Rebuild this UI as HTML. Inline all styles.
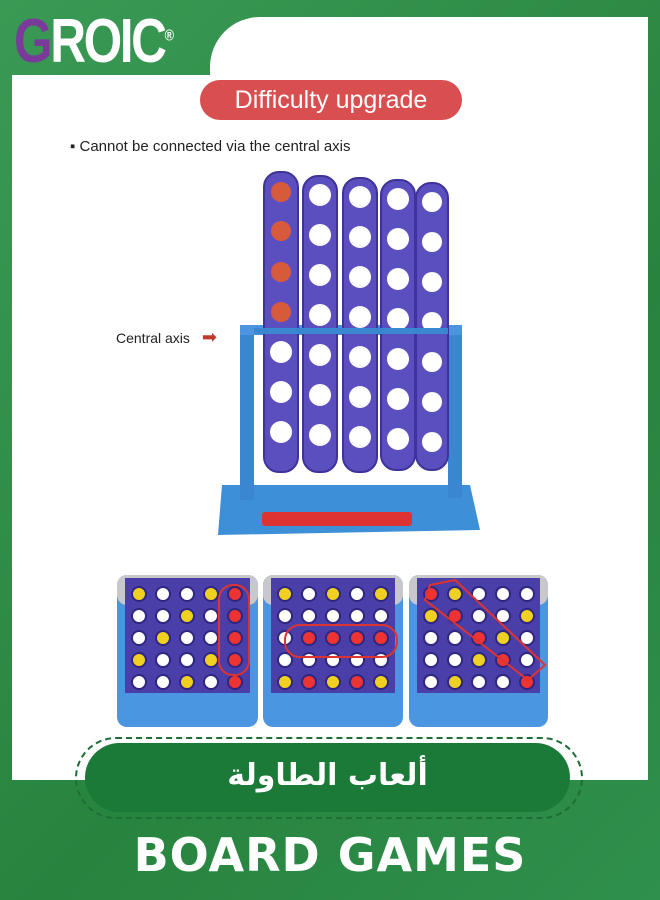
<!DOCTYPE html>
<html><head><meta charset="utf-8"><style>
body{margin:0;width:660px;height:900px;overflow:hidden;background:#2f8f4c;font-family:"Liberation Sans",sans-serif;position:relative}
.bg{position:absolute;inset:0;background:linear-gradient(135deg,#3a9a55,#27843f 60%,#2f8f4c)}
.p1{position:absolute;left:12px;top:75px;width:636px;height:705px;background:#fff}
.p2{position:absolute;left:210px;top:17px;width:438px;height:80px;background:#fff;border-top-left-radius:50px}
.logo{position:absolute;left:14px;top:6px;font-size:62px;font-weight:bold;color:#fff;letter-spacing:-3px;transform:scaleX(0.8);transform-origin:left}
.pill{position:absolute;left:200px;top:80px;width:262px;height:40px;border-radius:20px;background:#d94f50;color:#fff;font-size:25px;text-align:center;line-height:40px}
.txt{position:absolute;left:70px;top:138px;font-size:15px;color:#222}
.ax{position:absolute;left:116px;top:327px;font-size:14px;color:#222}
.dash{position:absolute;left:75px;top:737px;width:508px;height:82px;border:2px dashed #1e6e35;border-radius:42px;box-sizing:border-box}
.ar{position:absolute;left:85px;top:743px;width:485px;height:69px;border-radius:35px;background:#1b7a38;color:#fff;font-size:30px;font-weight:bold;text-align:center;line-height:66px;font-family:"DejaVu Sans",sans-serif}
.bg2{position:absolute;left:0;top:828px;width:660px;text-align:center;font-size:46px;font-weight:900;color:#fff;font-family:"DejaVu Sans",sans-serif;letter-spacing:1px}
</style></head><body>
<div class="bg"></div>
<div class="p1"></div><div class="p2"></div>
<div class="logo"><span style="color:#7a3a9a">G</span>ROIC<sup style="font-size:16px">®</sup></div>
<div class="pill">Difficulty upgrade</div>
<div class="txt">▪ Cannot be connected via the central axis</div>
<div class="ax">Central axis <span style="color:#c0392b;margin-left:8px;font-size:18px">➡</span></div>
<svg style="position:absolute;left:0;top:0" width="660" height="900">
<path d="M222 485 L470 485 L480 530 L218 535 Z" fill="#3d8fd8"/>
<rect x="240" y="330" width="14" height="170" fill="#3a86d0"/>
<rect x="448" y="328" width="14" height="170" fill="#3a86d0"/>
<rect x="240" y="325" width="222" height="10" fill="#4a95dd"/>
<rect x="262" y="512" width="150" height="14" rx="3" fill="#d33"/>
<g fill="#5b4fc0" stroke="#3d339a" stroke-width="2">
<rect x="264" y="172" width="34" height="300" rx="15"/>
<rect x="303" y="176" width="34" height="296" rx="15"/>
<rect x="343" y="178" width="34" height="294" rx="15"/>
<rect x="381" y="180" width="34" height="290" rx="15"/>
<rect x="416" y="183" width="32" height="287" rx="15"/>
</g>
<g fill="#fff">
<circle cx="281" cy="192" r="10" fill="#d85a3c"/><circle cx="281" cy="231" r="10" fill="#d85a3c"/><circle cx="281" cy="272" r="10" fill="#d85a3c"/><circle cx="281" cy="312" r="10" fill="#d85a3c"/>
<circle cx="281" cy="352" r="11"/><circle cx="281" cy="392" r="11"/><circle cx="281" cy="432" r="11"/>
<circle cx="320" cy="195" r="11"/><circle cx="320" cy="235" r="11"/><circle cx="320" cy="275" r="11"/><circle cx="320" cy="315" r="11"/><circle cx="320" cy="355" r="11"/><circle cx="320" cy="395" r="11"/><circle cx="320" cy="435" r="11"/>
<circle cx="360" cy="197" r="11"/><circle cx="360" cy="237" r="11"/><circle cx="360" cy="277" r="11"/><circle cx="360" cy="317" r="11"/><circle cx="360" cy="357" r="11"/><circle cx="360" cy="397" r="11"/><circle cx="360" cy="437" r="11"/>
<circle cx="398" cy="199" r="11"/><circle cx="398" cy="239" r="11"/><circle cx="398" cy="279" r="11"/><circle cx="398" cy="319" r="11"/><circle cx="398" cy="359" r="11"/><circle cx="398" cy="399" r="11"/><circle cx="398" cy="439" r="11"/>
<circle cx="432" cy="202" r="10"/><circle cx="432" cy="242" r="10"/><circle cx="432" cy="282" r="10"/><circle cx="432" cy="322" r="10"/><circle cx="432" cy="362" r="10"/><circle cx="432" cy="402" r="10"/><circle cx="432" cy="442" r="10"/>
</g>
<rect x="254" y="328" width="194" height="6" fill="#3a86d0"/>
<g>
<rect x="117" y="575" width="141" height="152" rx="10" fill="#4a96e0"/>
<rect x="263" y="575" width="140" height="152" rx="10" fill="#4a96e0"/>
<rect x="409" y="575" width="139" height="152" rx="10" fill="#4a96e0"/>
<rect x="117" y="575" width="141" height="30" rx="10" fill="#c8c8cc"/>
<rect x="263" y="575" width="140" height="30" rx="10" fill="#c8c8cc"/>
<rect x="409" y="575" width="139" height="30" rx="10" fill="#c8c8cc"/>
<g fill="#4a3fa8">
<rect x="125" y="578" width="125" height="115"/><rect x="271" y="578" width="124" height="115"/><rect x="417" y="578" width="123" height="115"/>
</g>
</g>
<g id="dots"></g>
<g fill="none" stroke="#d33" stroke-width="2">
<rect x="219" y="585" width="30" height="90" rx="14"/>
<rect x="285" y="625" width="112" height="32" rx="15"/>
<path d="M430 585 L455 580 L545 665 L528 680 L425 600 Z"/>
</g>
</svg>
<script>
var g=document.getElementById('dots'),s='';
[[117,0],[263,1],[409,2]].forEach(function(b){
for(var c=0;c<5;c++)for(var r=0;r<5;r++){
var x=b[0]+22+c*24,y=594+r*22,col='#fff';
if(b[1]==0){if(c==4)col='#e33';else if((c+r)%3==0)col='#f0d020';}
if(b[1]==1){if(r==2&&c>0)col='#e33';else if((c*2+r)%4==0)col='#f0d020';else if(r==4&&c%2)col='#e33';}
if(b[1]==2){if(c==r)col='#e33';else if((c+r)%4==1)col='#f0d020';}
s+='<circle cx="'+x+'" cy="'+y+'" r="7" fill="'+col+'" stroke="#2e2680" stroke-width="2"/>';}});
g.innerHTML=s;
</script>
<div class="dash"></div>
<div class="ar">ألعاب الطاولة</div>
<div class="bg2">BOARD GAMES</div>
</body></html>
